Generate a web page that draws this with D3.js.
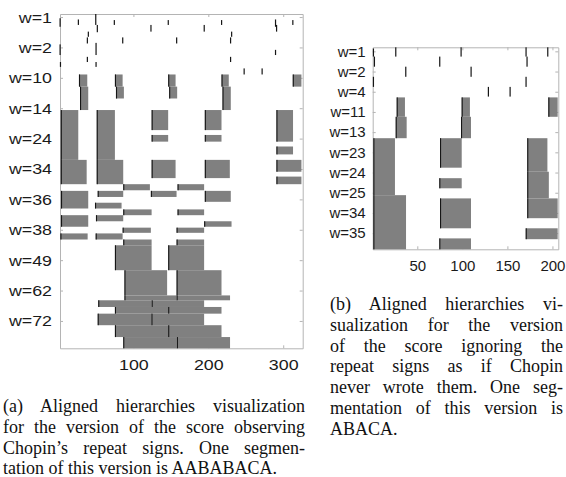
<!DOCTYPE html>
<html>
<head>
<meta charset="utf-8">
<script src="https://cdn.jsdelivr.net/npm/d3@7"></script>
<style>
  body { margin: 0; background: #fff; }
</style>
</head>
<body>
<svg id="chart" width="566" height="477"></svg>
<script>
// ---- panel (a): repeats of the version observing the repeat signs ----
const labelsA = ["w=1", "w=2", "w=10", "w=14", "w=24", "w=34", "w=36", "w=38", "w=49", "w=62", "w=72"];
const rowTicksA = [1, 11, 21, 31, 41, 51, 61, 71, 81, 91, 101];
const xTicksA = [100, 200, 300];

// single-beat starts: [rowFrom, rowTo, start]
const marksA = [
  [1.4, 4.2, 2], [1.8, 3.6, 26.4], [0, 3.6, 49.6], [3.6, 6, 51.7], [2, 3.6, 74.4],
  [2, 3.6, 146.4], [2, 3.6, 217.6], [1.8, 4.2, 289.6], [3.6, 5.8, 291], [2, 3.6, 312.7],
  [3.6, 5.8, 123.3], [3.6, 5.8, 194.4], [5.8, 7.5, 39.7], [5.8, 7.5, 231],
  [7.7, 9.7, 38.4], [7.7, 9.7, 85.6], [7.7, 9.7, 157.6], [7.7, 9.7, 229.6],
  [10, 13.5, 2], [9.5, 13.5, 50], [11.8, 13.5, 289.6], [14.1, 15.8, 38.4],
  [14.1, 15.8, 229.6], [15.8, 17.4, 50], [15.8, 17.4, 2.5], [17.9, 19.9, 247.7],
  [17.9, 19.9, 271.7]
];

// repeat blocks: [rowFrom, rowTo, start, end]
const blocksA = [
  [19.9, 23.9, 27.3, 38.4], [23.9, 31.6, 28.7, 39.7], [19.9, 23.9, 75.3, 85.6],
  [23.9, 27.8, 76.7, 87.3], [19.9, 23.9, 146.4, 156.3], [23.9, 27.8, 147.7, 158.4],
  [19.9, 23.9, 217.6, 227.3], [23.9, 31.6, 218.9, 230], [19.9, 23.9, 312.7, 324.3],

  [31.6, 48, 3, 26.4], [48, 56, 3, 37.6], [31.6, 48, 51, 75.3], [48, 56, 51, 86.4],
  [31.6, 38.2, 124.3, 146.4], [39.8, 42, 124.3, 146.4], [48, 54, 124.3, 156.3],
  [31.6, 38.2, 195.3, 217.6], [39.8, 42, 195.3, 217.6], [48, 54, 195.3, 228.7],
  [31.6, 42, 290.9, 313.1], [43.6, 46.2, 290.9, 313.1], [48, 51.9, 290.9, 324.3],
  [53.5, 56, 290.9, 324.3],

  [56, 58, 86.4, 122], [56, 58, 158.9, 194.4], [58.2, 64, 3.3, 39.7],
  [58.2, 60.2, 52.3, 86.4], [58.2, 60.2, 123.3, 157.6], [58.2, 61.8, 195.3, 230],
  [62.1, 64, 48.7, 84.2], [64.3, 66.2, 86.4, 124.3], [64.3, 66.2, 158.9, 194.4],
  [66.2, 70, 3.3, 39.7], [66.2, 68.2, 50, 86.4], [68.2, 70, 194.4, 231],
  [70.3, 72, 85.6, 123.3], [70.3, 72, 157.6, 194.4], [72.2, 74.2, 2.5, 38.9],
  [72.2, 74.2, 49.6, 85.6], [74.2, 76.1, 86.4, 124.3], [74.2, 76.1, 157.6, 194.4],

  [76.1, 84.3, 75.3, 124.3], [76.1, 84.3, 146.4, 194.4],
  [84.3, 92.6, 88, 145], [84.3, 92.6, 157.6, 217.6],
  [92.6, 94.2, 88, 157.6], [92.6, 94.2, 157.6, 229],
  [94.2, 96.4, 53, 124.3], [94.2, 96.4, 124.3, 194.4],
  [96.4, 98.6, 75.3, 146.4], [96.4, 98.6, 146.4, 217.6],
  [98.6, 102.4, 52.3, 124], [98.6, 102.4, 124, 194.4],
  [102.4, 106.3, 75.3, 146.4], [102.4, 106.3, 146.4, 217.6],
  [106.3, 110, 86.4, 158], [106.3, 110, 158, 229]
];

// ---- panel (b): version ignoring the repeat signs ----
const labelsB = ["w=1", "w=2", "w=4", "w=11", "w=13", "w=23", "w=24", "w=25", "w=34", "w=35"];
const rowTicksB = [1, 6, 11, 16, 21, 26, 31, 36, 41, 46];
const xTicksB = [50, 100, 150, 200];

const marksB = [
  [0.3, 2.3, 1.2], [2.3, 4.8, 2.3], [0, 2.3, 26], [0, 2.3, 98.5], [0, 2.3, 170.6],
  [2.3, 4.8, 171.7], [0, 2.3, 194.7], [2.3, 4.8, 74.8], [4.8, 7.3, 37.1],
  [4.8, 7.3, 109.6], [7.3, 9.8, 1.2], [7.3, 9.8, 170.6], [9.8, 12.2, 128.8],
  [9.8, 12.2, 152.9]
];

const blocksB = [
  [12.4, 17.2, 27.1, 36.3], [17.2, 22.5, 26, 38.2], [12.4, 17.2, 99.2, 108.4],
  [17.2, 22.5, 98.5, 109.6], [12.4, 17.2, 195.4, 205.8],
  [22.5, 36.6, 1.2, 25.2], [36.6, 50, 1.2, 37.5],
  [22.5, 29.8, 75.2, 99.3], [32.4, 34.9, 74.4, 99.3], [37.4, 44.8, 75.2, 109.6],
  [47.3, 50, 74.4, 109.6],
  [22.5, 30.8, 172, 194.4], [30.8, 37.4, 172, 196], [37.4, 42.3, 172, 205.8],
  [44.8, 47.5, 170.3, 205.8]
];

const captionA = [
  "(a) Aligned hierarchies visualization",
  "for the version of the score observing",
  "Chopin\u2019s repeat signs. One segmen-",
  "tation of this version is AABABACA."
];
const captionB = [
  "(b) Aligned hierarchies vi-",
  "sualization for the version",
  "of the score ignoring the",
  "repeat signs as if Chopin",
  "never wrote them. One seg-",
  "mentation of this version is",
  "ABACA."
];

const svg = d3.select("#chart");
const GREY = "#808080", DARK = "#161616", FRAME = "#b4b4b4";
const SANS = "'Liberation Sans', Arial, Helvetica, sans-serif";
const SERIF = "'Liberation Serif', 'Times New Roman', Times, serif";

function panel(p) {
  const x = d3.scaleLinear().domain(p.xDomain).range(p.xRange);
  const y = d3.scaleLinear().domain(p.yDomain).range(p.yRange);
  const g = svg.append("g");
  const [x0, x1] = p.xRange, [y0, y1] = p.yRange;

  const axis = (gen, tx, ty) => {
    const a = g.append("g").attr("transform", `translate(${tx},${ty})`).call(gen);
    a.selectAll("path.domain, line").attr("stroke", FRAME);
    a.selectAll("text")
      .attr("fill", "#1a1a1a")
      .style("font-family", SANS)
      .style("font-size", p.fontSize + "px")
      .attr("transform", `scale(${p.stretch},1)`);
    return a;
  };
  axis(d3.axisBottom(x).tickValues(p.xTicks).tickSizeInner(-3).tickSizeOuter(0).tickPadding(11), 0, y1);
  axis(d3.axisTop(x).tickValues(p.xTicks).tickSizeInner(-3).tickSizeOuter(0).tickFormat(""), 0, y0);
  axis(d3.axisLeft(y).tickValues(p.rowTicks).tickFormat((d, i) => p.labels[i])
    .tickSizeInner(-3).tickSizeOuter(0).tickPadding(7), x0, 0);
  axis(d3.axisRight(y).tickValues(p.rowTicks).tickSizeInner(-3).tickSizeOuter(0).tickFormat(""), x1, 0);

  g.append("g").selectAll("rect")
    .data(p.blocks)
    .join("rect")
    .attr("x", d => x(d[2]))
    .attr("width", d => x(d[3]) - x(d[2]))
    .attr("y", d => y(d[0]))
    .attr("height", d => y(d[1]) - y(d[0]))
    .attr("fill", GREY);

  // dark line where each repeat starts
  g.append("g").selectAll("rect")
    .data(p.blocks)
    .join("rect")
    .attr("x", d => x(d[2]))
    .attr("width", 1.1)
    .attr("y", d => y(d[0]))
    .attr("height", d => y(d[1]) - y(d[0]))
    .attr("fill", DARK);

  g.append("g").selectAll("rect")
    .data(p.marks)
    .join("rect")
    .attr("x", d => x(d[2]) - 0.5)
    .attr("width", 1.2)
    .attr("y", d => y(d[0]))
    .attr("height", d => y(d[1]) - y(d[0]))
    .attr("fill", DARK);
}

panel({
  xDomain: [2, 326], xRange: [60, 302.7],
  yDomain: [0, 110], yRange: [14, 348.3],
  xTicks: xTicksA, rowTicks: rowTicksA, labels: labelsA,
  blocks: blocksA, marks: marksA, fontSize: 15.5, stretch: 1.15
});
panel({
  xDomain: [0.5, 206.5], xRange: [372.7, 558.3],
  yDomain: [0, 50], yRange: [47.3, 249.3],
  xTicks: xTicksB, rowTicks: rowTicksB, labels: labelsB,
  blocks: blocksB, marks: marksB, fontSize: 15, stretch: 1
});

// justified caption lines, last line left as is
function caption(lines, left, right, top, step) {
  lines.forEach((line, i) => {
    const t = svg.append("text")
      .attr("x", left)
      .attr("y", top + i * step)
      .attr("fill", "#111")
      .style("font-family", SERIF)
      .style("font-size", "18px")
      .text(line);
    if (i < lines.length - 1) {
      const gaps = (line.match(/ /g) || []).length;
      const extra = (right - left) - t.node().getComputedTextLength();
      if (gaps) t.style("word-spacing", (extra / gaps) + "px");
    }
  });
}
caption(captionA, 3, 305, 412, 20.8);
caption(captionB, 330, 563, 310, 20.8);
</script>
</body>
</html>
